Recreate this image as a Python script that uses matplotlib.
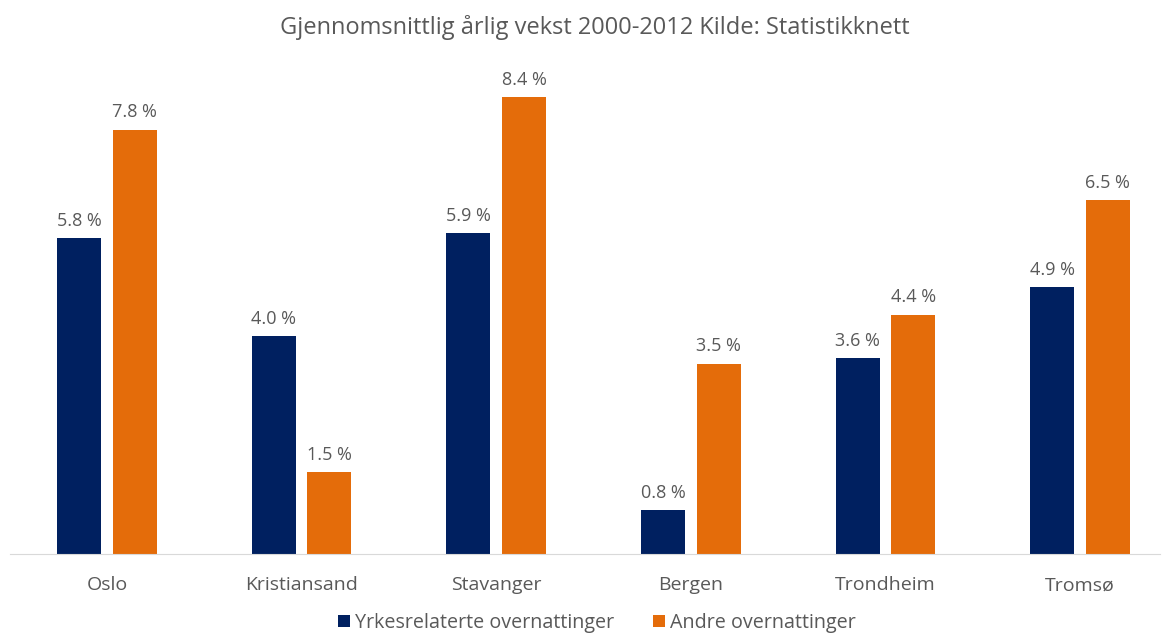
import matplotlib
matplotlib.use("Agg")
import matplotlib.pyplot as plt
import numpy as np

categories = ["Oslo", "Kristiansand", "Stavanger", "Bergen", "Trondheim", "Tromsø"]
yrkes = [5.8, 4.0, 5.9, 0.8, 3.6, 4.9]
andre = [7.8, 1.5, 8.4, 3.5, 4.4, 6.5]
series_names = ["Yrkesrelaterte overnattinger", "Andre overnattinger"]
title = "Gjennomsnittlig årlig vekst 2000-2012 Kilde: Statistikknett"

navy = "#002060"
orange = "#E46C0A"
grey = "#595959"

plt.rcParams['font.family'] = ['Open Sans', 'DejaVu Sans']

W, H = 1166, 637
fig = plt.figure(figsize=(W/100, H/100), dpi=100)
left_px, right_px = 10, 1160
base_px = 554
top_px = 64
ax = fig.add_axes([left_px/W, 1 - base_px/H, (right_px-left_px)/W, (base_px-top_px)/H])

x = np.arange(len(categories))
pxu = 194.6
bw = 44/pxu
off = 27.75/pxu
b1 = ax.bar(x - off, yrkes, bw, color=navy, label=series_names[0])
b2 = ax.bar(x + off, andre, bw, color=orange, label=series_names[1])

for bars, vals in ((b1, yrkes), (b2, andre)):
    for r, v in zip(bars, vals):
        ax.annotate(f"{v:.1f} %", (r.get_x() + r.get_width()/2, v),
                    xytext=(0, 6), textcoords="offset points",
                    ha="center", va="bottom", fontsize=13, color=grey)

ax.set_xlim(-(107-left_px)/pxu, 5 + (right_px-1080)/pxu)
ax.set_ylim(0, (base_px-top_px)/54.4)
ax.set_xticks(x)
ax.set_xticklabels(categories, fontsize=14, color=grey)
ax.tick_params(axis='x', length=0, pad=16)
ax.set_yticks([])
for s in ["top", "right", "left"]:
    ax.spines[s].set_visible(False)
ax.spines["bottom"].set_color("#d9d9d9")

fig.text(595/W, 1 - 28/H, title, ha="center", va="center", fontsize=17, color=grey)

fig.legend(handles=[b1, b2], loc="center", bbox_to_anchor=(597/W, 1 - 623/H),
           ncol=2, frameon=False, fontsize=14.2, labelcolor=grey,
           handlelength=0.6, handleheight=0.6, handletextpad=0.25, columnspacing=2.0,
           borderpad=0.1)

fig.savefig("out.png", dpi=100)
